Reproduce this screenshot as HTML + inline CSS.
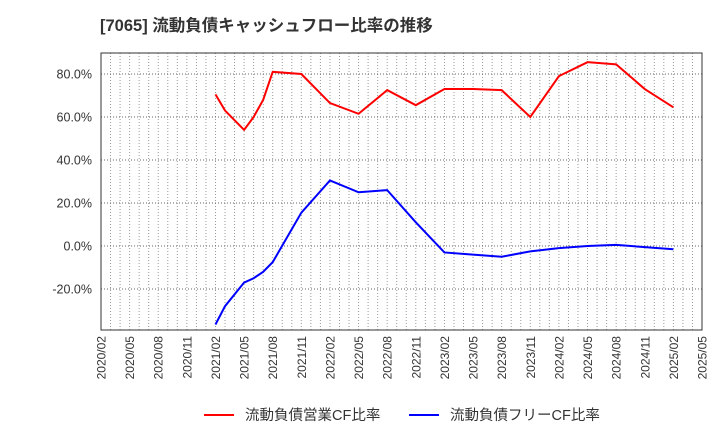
<!DOCTYPE html>
<html><head><meta charset="utf-8"><style>
body{margin:0;background:#fff;font-family:"Liberation Sans","Noto Sans CJK JP",sans-serif}
</style></head><body>
<svg id="c" width="720" height="440" xmlns="http://www.w3.org/2000/svg"></svg>
<script>
const xLabels=["2020/02","2020/05","2020/08","2020/11","2021/02","2021/05","2021/08","2021/11","2022/02","2022/05","2022/08","2022/11","2023/02","2023/05","2023/08","2023/11","2024/02","2024/05","2024/08","2024/11","2025/02","2025/05"];
const yTicks=[-20,0,20,40,60,80];
const redMonths=[12,13,15,16,17,18,21,24,27,30,33,36,39,42,45,48,51,54,57,60];
const redValues=[70.5,63,54,60,68,81,80,66.5,61.5,72.5,65.5,73,73,72.5,60,79,85.5,84.5,73,64.5];
const blueMonths=[12,13,15,16,17,18,21,24,27,30,33,36,39,42,45,48,51,54,57,60];
const blueValues=[-36.5,-28,-17,-15,-12,-7.5,15.5,30.5,25,26,11,-3,-4,-5,-2.5,-1,0,0.5,-0.5,-1.5];
const L=101,R=702,T=53,B=330;
const X=m=>L+m*(R-L)/63;
const Y=v=>246-v*2.15;
const s=document.getElementById('c');const NS="http://www.w3.org/2000/svg";
function el(t,a,p){const e=document.createElementNS(NS,t);for(const k in a)e.setAttribute(k,a[k]);(p||s).appendChild(e);return e;}
const t=el('text',{x:100,y:31,'font-size':16.5,'font-weight':'bold',fill:'#333'});t.textContent="[7065]  流動負債キャッシュフロー比率の推移";


for(let m=0;m<=63;m++){const g=el('line',{x1:X(m),x2:X(m),y1:T,y2:B,stroke:'#999','stroke-dasharray':'1,2','stroke-width':1});

}
yTicks.forEach(v=>{const g=el('line',{x1:L,x2:R,y1:Y(v),y2:Y(v),stroke:'#666','stroke-dasharray':'1,2'});


const tx=el('text',{x:92,y:Y(v)+4.5,'font-size':12.5,'text-anchor':'end',fill:'#333'});tx.textContent=v.toFixed(1)+"%";

});
xLabels.forEach((lb,i)=>{const x=X(i*3);const tx=el('text',{transform:`translate(${x+4.5},${B+6}) rotate(-90)`,'font-size':12,'text-anchor':'end',fill:'#333'});tx.textContent=lb;

});
const fr=el('rect',{x:L,y:T,width:R-L,height:B-T,fill:'none',stroke:'#333'});


function line(ms,vs,c,n){const p=el('polyline',{points:ms.map((m,i)=>X(m)+","+Y(vs[i])).join(" "),fill:'none',stroke:c,'stroke-width':2});

}
line(redMonths,redValues,'#f00','operating-cf-ratio-line');
line(blueMonths,blueValues,'#00f','free-cf-ratio-line');
function leg(x,c,lb,n){const g=el('g',{});

el('line',{x1:x,x2:x+30,y1:415,y2:415,stroke:c,'stroke-width':2},g);
const tx=el('text',{x:x+41,y:420,'font-size':14.5,fill:'#333'},g);tx.textContent=lb;}
leg(204,'#f00','流動負債営業CF比率','legend-operating-cf');
leg(409,'#00f','流動負債フリーCF比率','legend-free-cf');
</script>
</body></html>
